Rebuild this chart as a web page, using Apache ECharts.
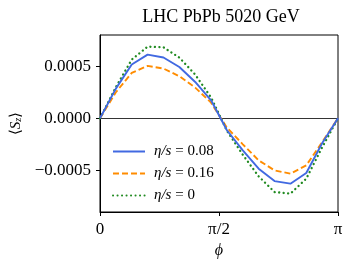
<!DOCTYPE html>
<html><head><meta charset="utf-8">
<script src="https://cdn.jsdelivr.net/npm/echarts@6/dist/echarts.min.js"></script>
<style>html,body{margin:0;padding:0;background:#fff}#c{width:352px;height:269px}</style>
</head><body><div id="c"></div>
<script>
const phi = [0, 0.20944, 0.41888, 0.62832, 0.83776, 1.04720, 1.25664, 1.46608, 1.67552, 1.88496, 2.09440, 2.30383, 2.51327, 2.72271, 2.93215, 3.14159];
const s008 = [0, 0.000285, 0.000516, 0.000612, 0.000584, 0.000493, 0.000349, 0.000173, -0.000115, -0.000308, -0.000484, -0.000603, -0.000628, -0.000526, -0.00024, 0];
const s016 = [0, 0.00025, 0.000436, 0.000503, 0.000478, 0.000404, 0.000295, 0.00015, -0.00009, -0.00025, -0.000404, -0.0005, -0.000532, -0.000452, -0.00023, 0];
const s0 = [0, 0.0003, 0.000564, 0.000688, 0.000682, 0.000583, 0.00042, 0.0002, -0.00012, -0.00035, -0.000558, -0.000708, -0.000724, -0.00058, -0.00028, 0];
const seriesNames = ['η/s = 0.08', 'η/s = 0.16', 'η/s = 0'];
const yTicks = [-0.0005, 0, 0.0005];
const xTickLabels = ['0', 'π/2', 'π'];

const serif = 'Liberation Serif';
const zip = a => phi.map((p, i) => [p, a[i]]);
const chart = echarts.init(document.getElementById('c'), null, {renderer: 'canvas'});
chart.setOption({
  animation: false,
  title: {text: 'LHC PbPb 5020 GeV', left: 216, textAlign: 'center', top: 3,
    textStyle: {fontFamily: serif, fontWeight: 'normal', fontSize: 18, color: '#000'}},
  grid: {left: 100, right: 14, top: 35, bottom: 57, show: true, borderColor: '#000', borderWidth: 1, backgroundColor: 'transparent'},
  legend: {
    orient: 'vertical', left: 107, top: 139, itemWidth: 32, itemHeight: 12, itemGap: 7,
    data: seriesNames,
    itemStyle: {opacity: 0},
    formatter: n => '{i|η/s} = ' + n.split(' = ')[1],
    textStyle: {fontFamily: serif, fontSize: 15, color: '#000', padding: [0, 0, 0, 4],
      rich: {i: {fontFamily: serif, fontStyle: 'italic', fontSize: 15}}}
  },
  xAxis: {
    type: 'value', min: 0, max: Math.PI, interval: Math.PI / 2,
    name: 'ϕ', nameLocation: 'middle', nameGap: 30,
    nameTextStyle: {fontFamily: serif, fontStyle: 'italic', fontSize: 16, color: '#000'},
    axisLine: {show: true, onZero: false, lineStyle: {color: '#000', width: 1}},
    axisTick: {show: true, length: 4, lineStyle: {color: '#000'}},
    splitLine: {show: false},
    axisLabel: {fontFamily: serif, fontSize: 17, color: '#000', margin: 9,
      formatter: v => xTickLabels[Math.round(v / (Math.PI / 2))]}
  },
  yAxis: {
    type: 'value', min: -0.0009, max: 0.0008,
    name: '⟨{i|S}{sub|z}⟩', nameLocation: 'middle', nameGap: 73,
    nameTextStyle: {fontFamily: serif, fontSize: 15, color: '#000',
      rich: {i: {fontFamily: serif, fontStyle: 'italic', fontSize: 15},
             sub: {fontFamily: serif, fontStyle: 'italic', fontSize: 10, verticalAlign: 'bottom', padding: [6, 0, 0, 0]}}},
    axisLine: {show: true, onZero: false, lineStyle: {color: '#000', width: 1}},
    axisTick: {show: true, length: 4, customValues: yTicks, lineStyle: {color: '#000'}},
    splitLine: {show: false},
    axisLabel: {fontFamily: serif, fontSize: 17, color: '#000', margin: 9, customValues: yTicks,
      formatter: v => (v < 0 ? '−' : '') + Math.abs(v).toFixed(4)}
  },
  series: [
    {name: seriesNames[0], type: 'line', data: zip(s008), symbol: 'none', z: 3,
      lineStyle: {color: '#4169e1', width: 1.9}, itemStyle: {color: '#4169e1'},
      markLine: {silent: true, symbol: 'none', label: {show: false}, data: [{yAxis: 0}],
        lineStyle: {color: '#000', width: 0.8, type: 'solid'}, z: 1}},
    {name: seriesNames[1], type: 'line', data: zip(s016), symbol: 'none', z: 2,
      lineStyle: {color: '#ff8c00', width: 1.9, type: [6, 3]}, itemStyle: {color: '#ff8c00'}},
    {name: seriesNames[2], type: 'line', data: zip(s0), symbol: 'none', z: 2,
      lineStyle: {color: '#228b22', width: 2.3, type: [0.1, 4.4], cap: 'round'}, itemStyle: {color: '#228b22'}}
  ]
});
</script></body></html>
